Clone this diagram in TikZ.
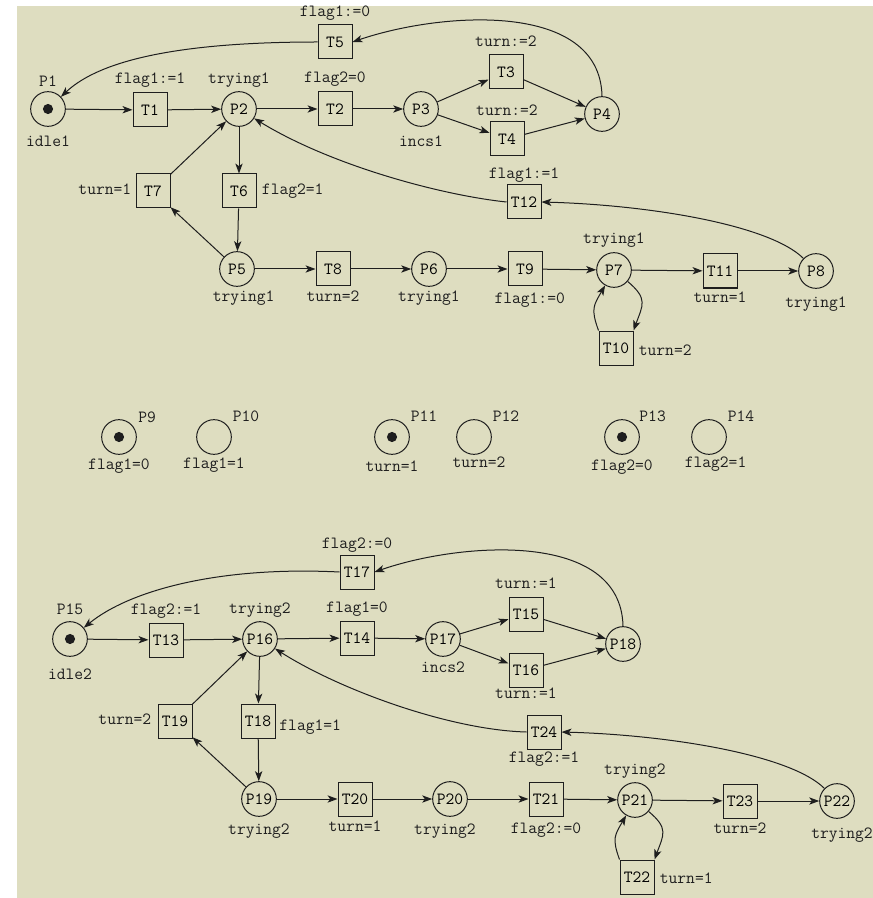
\documentclass[tikz,border=0pt]{standalone}
\usepackage{tikz}
\usetikzlibrary{arrows.meta, positioning}
\definecolor{netbg}{RGB}{222,221,192}
\definecolor{netink}{RGB}{30,30,30}

\begin{document}
\begin{tikzpicture}[
    x=0.75pt, y=-0.75pt,
    font=\fontsize{12.8}{14}\selectfont\ttfamily,
    place/.style={circle, draw=netink, line width=0.75pt, minimum size=26pt, inner sep=0pt},
    token/.style={path picture={\fill[netink] (path picture bounding box.center) circle (3.8pt);}},
    trans/.style={rectangle, draw=netink, line width=0.75pt, minimum size=25.5pt, inner sep=0pt},
    lbl/.style={inner sep=1pt, text height=8pt, text depth=2.5pt, text=netink},
    arrow/.style={-{Stealth[length=7.5pt, width=5.5pt, inset=2pt]}, draw=netink, line width=0.75pt}
]

\fill[white] (0,0) rectangle (873,898);
\fill[netbg] (17,6) rectangle (873,898);
\useasboundingbox (0,0) rectangle (873,898);

% process 1
\node[place, token] (P1) at (48,109) {};
\node[trans] (T1) at (150,110) {T1};
\node[place] (P2) at (239,109) {P2};
\node[trans] (T2) at (335,109) {T2};
\node[place] (P3) at (421,109) {P3};
\node[trans] (T3) at (506,72) {T3};
\node[trans] (T4) at (507,139) {T4};
\node[place] (P4) at (602,114) {P4};
\node[trans] (T5) at (335,42) {T5};
\node[trans] (T6) at (239,191) {T6};
\node[trans] (T7) at (153,191) {T7};
\node[place] (P5) at (237,269) {P5};
\node[trans] (T8) at (333,269) {T8};
\node[place] (P6) at (429,269) {P6};
\node[trans] (T9) at (525,269) {T9};
\node[place] (P7) at (614,270) {P7};
\node[trans] (T10) at (616,348) {T10};
\node[trans] (T11) at (720,271) {T11};
\node[place] (P8) at (816,271) {P8};
\node[trans] (T12) at (524,202) {T12};

\node[lbl, above=0pt of P1] (lP1) {P1};
\node[lbl, below=5.5pt of P1] (nP1) {idle1};
\node[lbl, above=2.75pt of T1] (gT1) {flag1:=1};
\node[lbl, above=1.75pt of P2] (nP2) {trying1};
\node[lbl, above=2.75pt of T2] (gT2) {flag2=0};
\node[lbl, below=5.5pt of P3] (nP3) {incs1};
\node[lbl, above=2pt of T5] (gT5) {flag1:=0};
\node[lbl, above=2pt of T3] (gT3) {turn:=2};
\node[lbl, above=0.5pt of T4] (gT4) {turn:=2};
\node[lbl, above=0.5pt of T12] (gT12) {flag1:=1};
\node[lbl, left=2pt of T7] (gT7) {turn=1};
\node[lbl, right=2.9pt of T6] (gT6) {flag2=1};
\node[lbl, below=1.75pt of P5, xshift=5pt] (nP5) {trying1};
\node[lbl, below=2pt of T8] (gT8) {turn=2};
\node[lbl, below=1.75pt of P6] (nP6) {trying1};
\node[lbl, below=3.5pt of T9, xshift=3.5pt] (gT9) {flag1:=0};
\node[lbl, above=2.5pt of P7] (nP7) {trying1};
\node[lbl, right=2.8pt of T10, yshift=-3pt] (gT10) {turn=2};
\node[lbl, below=1.25pt of T11] (gT11) {turn=1};
\node[lbl, below=4.75pt of P8] (nP8) {trying1};

\draw[arrow] (P1) -- (T1);
\draw[arrow] (T1) -- (P2);
\draw[arrow] (P2) -- (T2);
\draw[arrow] (T2) -- (P3);
\draw[arrow] (P3) -- (T3);
\draw[arrow] (P3) -- (T4);
\draw[arrow] (T3) -- (P4);
\draw[arrow] (T4) -- (P4);
\draw[arrow] (P4.north) .. controls (600,0) and (440,12) .. (T5.east);
\draw[arrow] (T5.west) .. controls (180,42) and (100,60) .. (P1);
\draw[arrow] (P2) -- (T6);
\draw[arrow] (T6) -- (P5);
\draw[arrow] (P5) -- (T7);
\draw[arrow] (T7) -- (P2);
\draw[arrow] (P5) -- (T8);
\draw[arrow] (T8) -- (P6);
\draw[arrow] (P6) -- (T9);
\draw[arrow] (T9) -- (P7);
\draw[arrow] (P7) to[out=-40, in=70, looseness=1.4] (T10.north east);
\draw[arrow] (T10.north west) to[out=110, in=-120, looseness=1.3] (P7);
\draw[arrow] (P7) -- (T11);
\draw[arrow] (T11) -- (P8);
\draw[arrow] (P8) .. controls (770,225) and (650,205) .. (T12.east);
\draw[arrow] (T12.west) .. controls (440,195) and (330,165) .. (P2);

% shared variables
\node[place, token] (P9) at (119,437) {};
\node[place] (P10) at (214,437) {};
\node[place, token] (P11) at (392,437) {};
\node[place] (P12) at (474,437) {};
\node[place, token] (P13) at (622,437) {};
\node[place] (P14) at (709,437) {};

\node[lbl, right=0pt of P9, yshift=14pt] (lP9) {P9};
\node[lbl, right=-0.5pt of P10, yshift=14.5pt] (lP10) {P10};
\node[lbl, right=-0.5pt of P11, yshift=14.5pt] (lP11) {P11};
\node[lbl, right=-0.5pt of P12, yshift=14.5pt] (lP12) {P12};
\node[lbl, right=-1.5pt of P13, yshift=14.5pt] (lP13) {P13};
\node[lbl, right=-0.5pt of P14, yshift=14.5pt] (lP14) {P14};
\node[lbl, below=1.75pt of P9] (nP9) {flag1=0};
\node[lbl, below=1pt of P10] (nP10) {flag1=1};
\node[lbl, below=3.25pt of P11] (nP11) {turn=1};
\node[lbl, below=0.25pt of P12, xshift=3.75pt] (nP12) {turn=2};
\node[lbl, below=2.5pt of P13] (nP13) {flag2=0};
\node[lbl, below=0.25pt of P14, xshift=4.9pt] (nP14) {flag2=1};

% process 2
\node[place, token] (P15) at (70,639) {};
\node[trans] (T13) at (166,640) {T13};
\node[place] (P16) at (260,639) {P16};
\node[trans] (T14) at (357,638) {T14};
\node[place] (P17) at (443,639) {P17};
\node[trans] (T15) at (526,614) {T15};
\node[trans] (T16) at (526,670) {T16};
\node[place] (P18) at (623,644) {P18};
\node[trans] (T17) at (357,572) {T17};
\node[trans] (T18) at (258,721) {T18};
\node[trans] (T19) at (175,721) {T19};
\node[place] (P19) at (259,799) {P19};
\node[trans] (T20) at (355,799) {T20};
\node[place] (P20) at (450,799) {P20};
\node[trans] (T21) at (546,799) {T21};
\node[place] (P21) at (635,800) {P21};
\node[trans] (T22) at (637,877) {T22};
\node[trans] (T23) at (740,801) {T23};
\node[place] (P22) at (837,801) {P22};
\node[trans] (T24) at (544,732) {T24};

\node[lbl, above=1pt of P15] (lP15) {P15};
\node[lbl, below=7.75pt of P15] (nP15) {idle2};
\node[lbl, above=2pt of T13] (gT13) {flag2:=1};
\node[lbl, above=1.75pt of P16] (nP16) {trying2};
\node[lbl, above=2pt of T14] (gT14) {flag1=0};
\node[lbl, below=2.5pt of P17] (nP17) {incs2};
\node[lbl, above=0.5pt of T17] (gT17) {flag2:=0};
\node[lbl, above=2pt of T15] (gT15) {turn:=1};
\node[lbl, below=-1pt of T16] (gT16) {turn:=1};
\node[lbl, below=0.5pt of T24] (gT24) {flag2:=1};
\node[lbl, left=3.5pt of T19] (gT19) {turn=2};
\node[lbl, right=1.75pt of T18, yshift=-4pt] (gT18) {flag1=1};
\node[lbl, below=4pt of P19] (nP19) {trying2};
\node[lbl, below=2pt of T20] (gT20) {turn=1};
\node[lbl, below=4pt of P20, xshift=-3.75pt] (nP20) {trying2};
\node[lbl, below=3.5pt of T21] (gT21) {flag2:=0};
\node[lbl, above=1.75pt of P21] (nP21) {trying2};
\node[lbl, right=2.8pt of T22, yshift=-2pt] (gT22) {turn=1};
\node[lbl, below=2pt of T23] (gT23) {turn=2};
\node[lbl, below=5.5pt of P22, xshift=3.75pt] (nP22) {trying2};

\draw[arrow] (P15) -- (T13);
\draw[arrow] (T13) -- (P16);
\draw[arrow] (P16) -- (T14);
\draw[arrow] (T14) -- (P17);
\draw[arrow] (P17) -- (T15);
\draw[arrow] (P17) -- (T16);
\draw[arrow] (T15) -- (P18);
\draw[arrow] (T16) -- (P18);
\draw[arrow] (P18.north) .. controls (621,530) and (461,542) .. (T17.east);
\draw[arrow] (T17.west) .. controls (220,566) and (130,590) .. (P15);
\draw[arrow] (P16) -- (T18);
\draw[arrow] (T18) -- (P19);
\draw[arrow] (P19) -- (T19);
\draw[arrow] (T19) -- (P16);
\draw[arrow] (P19) -- (T20);
\draw[arrow] (T20) -- (P20);
\draw[arrow] (P20) -- (T21);
\draw[arrow] (T21) -- (P21);
\draw[arrow] (P21) to[out=-40, in=70, looseness=1.4] (T22.north east);
\draw[arrow] (T22.north west) to[out=110, in=-120, looseness=1.3] (P21);
\draw[arrow] (P21) -- (T23);
\draw[arrow] (T23) -- (P22);
\draw[arrow] (P22) .. controls (791,755) and (670,735) .. (T24.east);
\draw[arrow] (T24.west) .. controls (450,730) and (340,690) .. (P16);

\end{tikzpicture}
\end{document}
